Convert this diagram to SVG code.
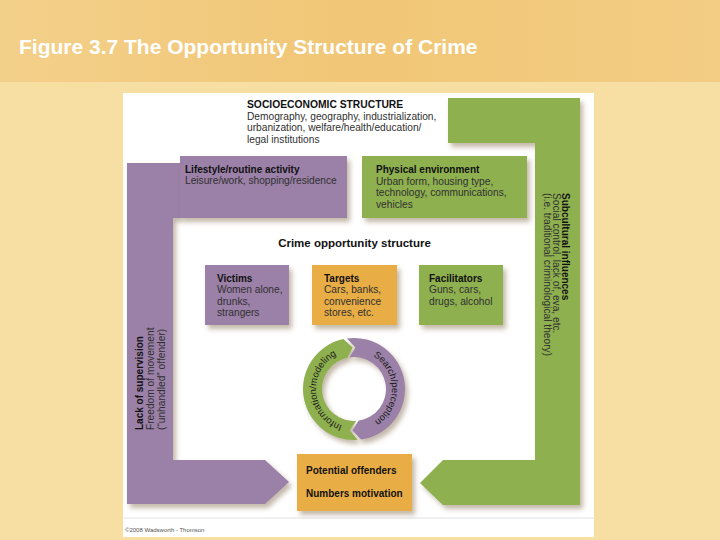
<svg xmlns="http://www.w3.org/2000/svg" width="720" height="540" viewBox="0 0 720 540">
<defs>
<linearGradient id="bg" x1="0" y1="0" x2="1" y2="0">
<stop offset="0" stop-color="#f3d08a"/><stop offset="0.5" stop-color="#f1c676"/><stop offset="1" stop-color="#f3cd84"/>
</linearGradient>
<filter id="sh" x="-20%" y="-20%" width="140%" height="140%">
<feDropShadow dx="3" dy="4" stdDeviation="2.5" flood-color="#7a6040" flood-opacity="0.45"/>
</filter>
<path id="tpG" d="M347.40,426.42 A38,38 0 0 1 341.63,353.07"/>
<path id="tpP" d="M372.42,355.77 A38,38 0 0 1 373.57,421.57"/>
</defs>
<style>
text{font-family:"Liberation Sans",Arial,sans-serif;fill:#303030;font-size:10.2px}
.b{font-weight:bold;fill:#111;font-size:10px}
.purple{fill:#9b80a7}
.green{fill:#8eb04f}
.orange{fill:#e9ad45}
.arc{font-size:9.5px;fill:#1a1a1a}
</style>
<rect x="0" y="0" width="720" height="540" fill="#f7dea2"/>
<rect x="0" y="0" width="720" height="82" fill="url(#bg)"/>
<g id="title"><text x="19" y="54" style="font-size:21px;font-weight:bold;fill:#ffffff">Figure 3.7 The Opportunity Structure of Crime</text></g>
<rect x="123" y="93" width="471" height="444" fill="#ffffff"/>
<line x1="124" y1="518" x2="594" y2="518" stroke="#e2e2e2" stroke-width="1"/>
<text x="125" y="532" style="font-size:6px;fill:#555">©2008 Wadsworth - Thomson</text>

<g id="socioeconomic-structure">
<path class="green" filter="url(#sh)" d="M448,98 H580 V505 H443 L420,483 L443,460 H535 V143 H448 Z"/>
<text x="247" y="108" class="b" style="font-size:10.3px">SOCIOECONOMIC STRUCTURE</text>
<text x="247" y="119.5">Demography, geography, industrialization,</text>
<text x="247" y="131">urbanization, welfare/health/education/</text>
<text x="247" y="142.5">legal institutions</text>
</g>
<g id="subcultural-influences">
<text transform="translate(562,193) rotate(90)" class="b">Subcultural influences</text>
<text transform="translate(552.5,193) rotate(90)">Social control, lack of, eva, etc.</text>
<text transform="translate(543.5,193) rotate(90)">(i.e. traditional criminological theory)</text>
</g>
<g id="lack-of-supervision">
<path class="purple" filter="url(#sh)" d="M127,163 H180 V218 H173 V460 H265 L289,482 L265,504 H127 Z"/>
<text transform="translate(143,430) rotate(-90)" class="b">Lack of supervision</text>
<text transform="translate(154,430) rotate(-90)">Freedom of movement</text>
<text transform="translate(165,430) rotate(-90)">(“unhandled” offender)</text>
</g>
<g id="lifestyle">
<rect class="purple" filter="url(#sh)" x="180" y="156" width="167" height="62"/>
<text x="185" y="173" class="b">Lifestyle/routine activity</text>
<text x="185" y="184">Leisure/work, shopping/residence</text>
</g>
<g id="physical-environment">
<rect class="green" filter="url(#sh)" x="362" y="156" width="165" height="62"/>
<text x="376" y="173" class="b">Physical environment</text>
<text x="376" y="184.5">Urban form, housing type,</text>
<text x="376" y="196">technology, communications,</text>
<text x="376" y="207.5">vehicles</text>
</g>
<g id="crime-opportunity-structure">
<text x="354.5" y="247" class="b" text-anchor="middle" style="font-size:11.5px">Crime opportunity structure</text>
</g>
<g id="victims">
<rect class="purple" filter="url(#sh)" x="205" y="265" width="84" height="60"/>
<text x="217" y="281.5" class="b">Victims</text>
<text x="217" y="293">Women alone,</text>
<text x="217" y="304.5">drunks,</text>
<text x="217" y="316">strangers</text>
</g>
<g id="targets">
<rect class="orange" filter="url(#sh)" x="312" y="265" width="85" height="60"/>
<text x="324" y="281.5" class="b">Targets</text>
<text x="324" y="293">Cars, banks,</text>
<text x="324" y="304.5">convenience</text>
<text x="324" y="316">stores, etc.</text>
</g>
<g id="facilitators">
<rect class="green" filter="url(#sh)" x="419" y="265" width="84" height="60"/>
<text x="429" y="281.5" class="b">Facilitators</text>
<text x="429" y="293">Guns, cars,</text>
<text x="429" y="304.5">drugs, alcohol</text>
</g>
<g id="potential-offenders">
<rect class="orange" filter="url(#sh)" x="297" y="454" width="115" height="57"/>
<text x="306" y="474" class="b">Potential offenders</text>
<text x="306" y="497" class="b">Numbers motivation</text>
</g>
<g id="connectors">
<path class="green" filter="url(#sh)" d="M357.56,439.88 A51,51 0 0 1 343.40,339.12 L352.55,347.53 L347.35,357.70 A32,32 0 0 0 356.23,420.92 L349.66,430.27 Z"/>
<path class="purple" filter="url(#sh)" d="M346.90,338.49 A51,51 0 0 1 404.51,381.90 A51,51 0 0 1 361.10,439.51 L352.55,430.47 L358.45,420.69 A32,32 0 0 0 385.69,384.55 A32,32 0 0 0 349.55,357.31 L355.45,347.53 Z"/>
<text class="arc"><textPath href="#tpG" startOffset="50%" text-anchor="middle">Information/modeling</textPath></text>
<text class="arc"><textPath href="#tpP" startOffset="50%" text-anchor="middle">Search/perception</textPath></text>
</g>
</svg>
